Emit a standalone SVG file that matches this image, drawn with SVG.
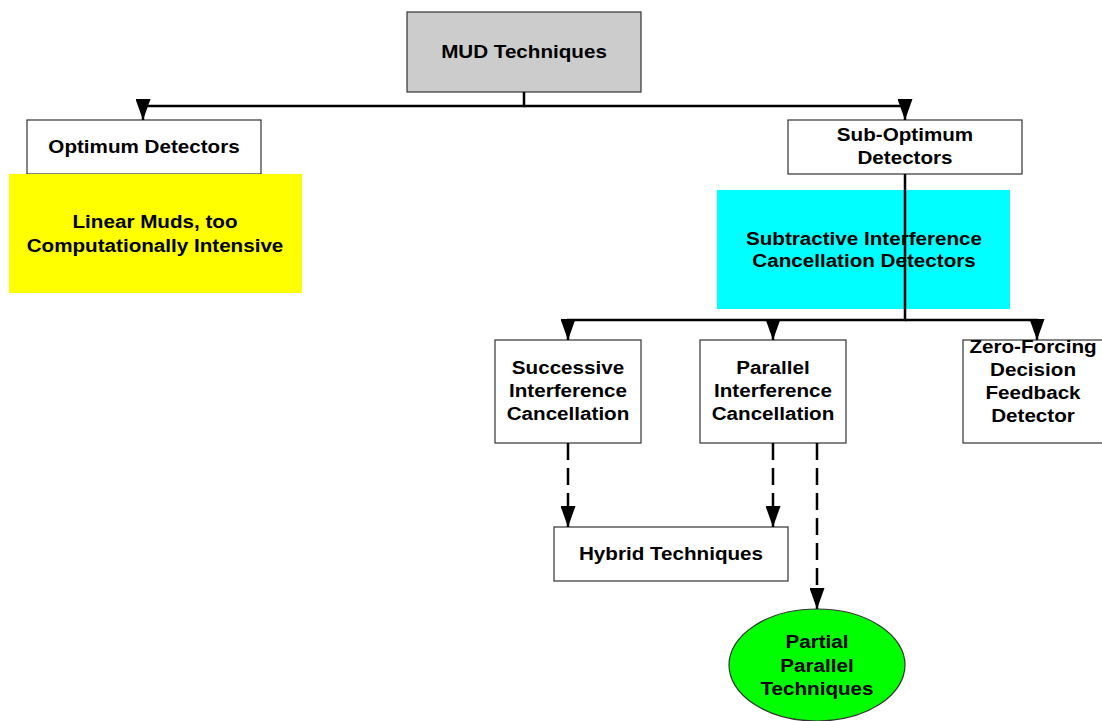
<svg xmlns="http://www.w3.org/2000/svg" width="1102" height="721" viewBox="0 0 1102 721">
<style>
.box{fill:#ffffff;stroke:#333333;stroke-width:1.2}
.lbl{font-family:"Liberation Sans",Arial,sans-serif;font-weight:bold;font-size:18.6px;fill:#000000;text-anchor:middle}
.conn{fill:none;stroke:#000000;stroke-width:2.5}
.dash{stroke-dasharray:17 8}
</style>
<defs>
<marker id="arr" viewBox="0 0 21 15" refX="21" refY="7.5" markerWidth="21" markerHeight="15" markerUnits="userSpaceOnUse" orient="auto">
<path d="M0,0 L21,7.5 L0,15 z" fill="#000000"/>
</marker>
</defs>
<rect width="1102" height="721" fill="#ffffff"/>
<g id="mud">
<rect x="407" y="12" width="234" height="80" fill="#cccccc" stroke="#333333" stroke-width="1.2"/>
<text class="lbl" transform="translate(524,58) scale(1.11,1)">MUD Techniques</text>
</g>
<g id="optimum">
<rect class="box" x="27" y="120" width="234" height="54"/>
<text class="lbl" transform="translate(144,153) scale(1.11,1)">Optimum Detectors</text>
</g>
<g id="linear">
<rect x="9" y="174" width="293" height="119" fill="#ffff00"/>
<text class="lbl" transform="translate(155,228) scale(1.11,1)"><tspan x="0">Linear Muds, too</tspan><tspan x="0" dy="24">Computationally Intensive</tspan></text>
</g>
<g id="suboptimum">
<rect class="box" x="788" y="120" width="234" height="54"/>
<text class="lbl" transform="translate(905,141) scale(1.11,1)"><tspan x="0">Sub-Optimum</tspan><tspan x="0" dy="23">Detectors</tspan></text>
</g>
<g id="subtractive">
<rect x="717" y="190" width="293" height="119" fill="#00ffff"/>
<text class="lbl" transform="translate(864,245) scale(1.11,1)"><tspan x="0">Subtractive Interference</tspan><tspan x="0" dy="22">Cancellation Detectors</tspan></text>
</g>
<g id="sic">
<rect class="box" x="495" y="340" width="146" height="103"/>
<text class="lbl" transform="translate(568,374) scale(1.11,1)"><tspan x="0">Successive</tspan><tspan x="0" dy="23">Interference</tspan><tspan x="0" dy="23">Cancellation</tspan></text>
</g>
<g id="pic">
<rect class="box" x="700" y="340" width="146" height="103"/>
<text class="lbl" transform="translate(773,374) scale(1.11,1)"><tspan x="0">Parallel</tspan><tspan x="0" dy="23">Interference</tspan><tspan x="0" dy="23">Cancellation</tspan></text>
</g>
<g id="zfdf">
<rect class="box" x="963" y="340" width="146" height="103"/>
<text class="lbl" transform="translate(1033,353) scale(1.11,1)"><tspan x="0">Zero-Forcing</tspan><tspan x="0" dy="23.5">Decision</tspan><tspan x="0" dy="23">Feedback</tspan><tspan x="0" dy="23">Detector</tspan></text>
</g>
<g id="hybrid">
<rect class="box" x="554" y="527" width="234" height="54"/>
<text class="lbl" transform="translate(671,560) scale(1.11,1)">Hybrid Techniques</text>
</g>
<g id="partial">
<ellipse cx="817" cy="665" rx="88" ry="56" fill="#00ff00" stroke="#333333" stroke-width="1.2"/>
<text class="lbl" transform="translate(817,648) scale(1.11,1)"><tspan x="0">Partial</tspan><tspan x="0" dy="24">Parallel</tspan><tspan x="0" dy="23">Techniques</tspan></text>
</g>
<g id="connectors">
<path class="conn" d="M524,92 V106 H143 V120" marker-end="url(#arr)"/>
<path class="conn" d="M524,106 H905 V120" marker-end="url(#arr)"/>
<path class="conn" d="M905,174 V320 H568 V340" marker-end="url(#arr)"/>
<path class="conn" d="M905,320 H1037 V340" marker-end="url(#arr)"/>
<path class="conn" d="M773,320 V340" marker-end="url(#arr)"/>
<path class="conn dash" d="M568,443 V527" marker-end="url(#arr)"/>
<path class="conn dash" d="M773,443 V527" marker-end="url(#arr)"/>
<path class="conn dash" d="M817,443 V609" marker-end="url(#arr)"/>
</g>
</svg>
